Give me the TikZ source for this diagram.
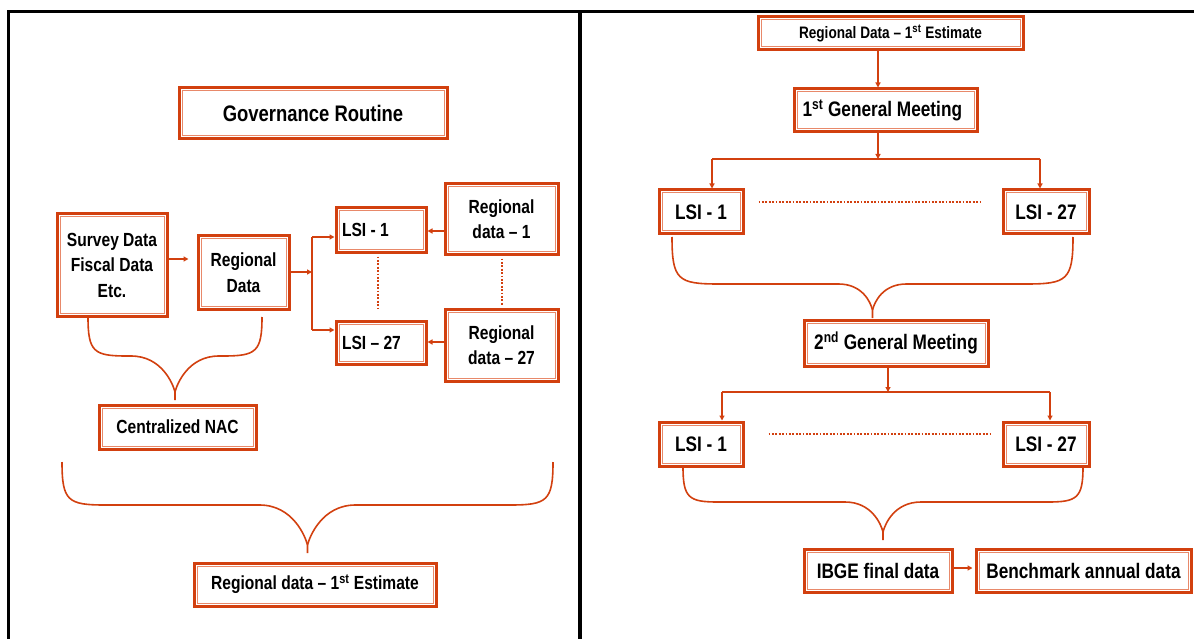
\documentclass[tikz,border=0pt]{standalone}
\usepackage{fontspec}
\setmainfont{Liberation Sans}[FakeStretch=0.82]
\usetikzlibrary{arrows.meta,calc}
\definecolor{ored}{HTML}{D2400F}
\definecolor{olight}{HTML}{E8896A}
\newcommand\mybrace[5]{% x1 x2 ytop ymid ytip
  \draw[brc] (#1,#3) .. controls (#1,{#4-4}) and ({#1+6},#4) .. ({#1+(#4-#3)},#4)
    -- ({(#1+#2)/2-(#5-#4)},#4) .. controls ({(#1+#2)/2-(#5-#4)*0.3},#4) and ({(#1+#2)/2-2},{#5-16}) .. ({(#1+#2)/2},{#5-8}) -- ({(#1+#2)/2},#5);
  \draw[brc] (#2,#3) .. controls (#2,{#4-4}) and ({#2-6},#4) .. ({#2-(#4-#3)},#4)
    -- ({(#1+#2)/2+(#5-#4)},#4) .. controls ({(#1+#2)/2+(#5-#4)*0.3},#4) and ({(#1+#2)/2+2},{#5-16}) .. ({(#1+#2)/2},{#5-8});
}
\tikzset{
  box/.style 2 args={draw=ored, line width=3pt, fill=white, rectangle, inner sep=0pt,
    minimum width=#1pt, minimum height=#2pt,
    font=\bfseries\fontsize{21}{26}\selectfont,
    path picture={\draw[olight, line width=1pt]
      ([shift={(3pt,-3pt)}]path picture bounding box.north west) rectangle
      ([shift={(-3pt,3pt)}]path picture bounding box.south east);}},
  lfont/.style={font=\bfseries\fontsize{19}{25.5}\selectfont},
  conn/.style={draw=ored, line width=1.6pt},
  brc/.style={draw=ored, line width=1.6pt},
  arr/.style={conn, -{Triangle[length=5pt,width=5pt]}},
  dotl/.style={draw=ored, line width=2pt, dash pattern=on 1.8pt off 1.6pt},
  frame/.style={draw=black, line width=3pt},
}
\begin{document}
\begin{tikzpicture}[x=1pt,y=-1pt]
\useasboundingbox (0,0) rectangle (1194,639);
% frame
\coordinate (fl) at (8.5,639);
\coordinate (ftl) at (8.5,11.5);
\coordinate (ftr) at (1194,11.5);
\coordinate (fst) at (580,11.5);
\coordinate (fsb) at (580,639);
\draw[frame] (fl) -- (ftl) -- (ftr);
\draw[frame, line width=4.5pt] (fst) -- (fsb);

% ---------- left panel ----------
\node[box={268}{51}, font=\bfseries\fontsize{22.5}{27}\selectfont] (gov) at (313,113.5) {Governance Routine};
\node[box={110}{102}, lfont, align=center] (survey) at (112,265) {Survey Data\\Fiscal Data\\Etc.};
\node[box={91}{73}, lfont, align=center] (regdata) at (243.5,272.5) {Regional\\Data};
\node[box={90}{44}, lfont] (lsiA) at (381,230) {\makebox[78pt][l]{LSI - 1}};
\node[box={90}{43}, lfont] (lsiB) at (381,342.5) {\makebox[78pt][l]{LSI – 27}};
\node[box={113}{70}, lfont, align=center] (regA) at (501.5,219) {Regional\\data – 1};
\node[box={113}{72}, lfont, align=center] (regB) at (501.5,345) {Regional\\data – 27};
\node[box={157}{44}, lfont] (nac) at (177.5,427) {Centralized NAC};
\node[box={242}{43}, lfont] (est) at (315,584.5) {Regional data – 1\textsuperscript{st} Estimate};

\draw[arr, shorten >=8pt] (survey.east |- 0,259) -- (regdata.west |- 0,259);
\coordinate (j1) at (312,272);
\coordinate (jt) at (312,237);
\coordinate (jb) at (312,330);
\draw[arr] (regdata.east |- j1) -- (j1);
\draw[conn] (jt) -- (jb);
\draw[arr] (jt) -- (lsiA.west |- jt);
\draw[arr] (jb) -- (lsiB.west |- jb);
\draw[arr] (regA.west |- 0,231) -- (lsiA.east |- 0,231);
\draw[arr] (regB.west |- 0,342) -- (lsiB.east |- 0,342);
\draw[dotl, shorten <=3pt, shorten >=10pt] ([xshift=-3pt]lsiA.south) -- ([xshift=-3pt]lsiB.north);
\draw[dotl, shorten <=3pt, shorten >=3pt] (regA.south) -- (regB.north);

\mybrace{88}{262}{317}{356}{400}
\mybrace{62}{553}{462}{505}{553}

% ---------- right panel ----------
\node[box={265}{33}, font=\bfseries\fontsize{16.6}{19}\selectfont] (rtop) at (890.5,33.5) {Regional Data – 1\textsuperscript{st} Estimate};
\node[box={183}{43}, font=\bfseries\fontsize{21}{26}\selectfont] (gm1) at (885.5,110.5) {\makebox[166pt][l]{1\textsuperscript{st} General Meeting}};
\node[box={84}{44}] (lsiC) at (701,212) {LSI - 1};
\node[box={86}{44}] (lsiD) at (1046,212) {LSI - 27};
\node[box={184}{46}] (gm2) at (896,343) {2\textsuperscript{nd} General Meeting};
\node[box={84}{44}] (lsiE) at (701,444) {LSI - 1};
\node[box={86}{44}] (lsiF) at (1046,444) {LSI - 27};
\node[box={148}{43}] (ibge) at (878,570.5) {IBGE final data};
\node[box={215}{43}] (bench) at (1083.5,570.5) {Benchmark annual data};

\draw[arr] (rtop.south -| 878,0) -- (gm1.north -| 878,0);
\coordinate (b1) at (878,159);
\coordinate (b1l) at (712,159);
\coordinate (b1r) at (1040,159);
\draw[arr] (gm1.south -| b1) -- (b1);
\draw[conn, line width=2.6pt] (b1l) -- (b1r);
\draw[arr] (b1l) -- (lsiC.north -| b1l);
\draw[arr] (b1r) -- (lsiD.north -| b1r);
\draw[dotl, shorten <=14pt, shorten >=20pt] (lsiC.east |- 0,202) -- (lsiD.west |- 0,202);
\mybrace{672}{1073}{237}{284}{318}

\coordinate (b2) at (888,392);
\coordinate (b2l) at (722,392);
\coordinate (b2r) at (1050,392);
\draw[arr] (gm2.south -| b2) -- (b2);
\draw[conn, line width=2pt] (b2l) -- (b2r);
\draw[arr] (b2l) -- (lsiE.north -| b2l);
\draw[arr] (b2r) -- (lsiF.north -| b2r);
\draw[dotl, shorten <=24pt, shorten >=9pt] (lsiE.east |- 0,434) -- (lsiF.west |- 0,434);
\mybrace{683}{1083}{467}{502}{540}

\draw[arr, shorten >=2pt] (ibge.east |- 0,568) -- (bench.west |- 0,568);
\end{tikzpicture}
\end{document}
